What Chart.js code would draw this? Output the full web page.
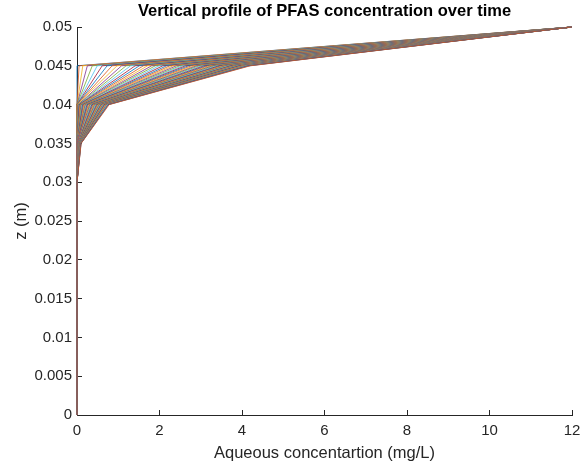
<!DOCTYPE html>
<html><head><meta charset="utf-8">
<script src="https://cdn.jsdelivr.net/npm/chart.js@4.4.0/dist/chart.umd.min.js"></script>
<style>html,body{margin:0;padding:0;background:#fff;} canvas{display:block;}</style>
</head><body>
<canvas id="c" width="582" height="465"></canvas>
<script>
// depth nodes (m)
const depthNodes = [0, 0.005, 0.01, 0.015, 0.02, 0.025, 0.03, 0.035, 0.04, 0.045, 0.05];
// concentration at the top boundary (z = 0.05) for every profile
const surfaceConc = 12;
// concentration at the deep nodes (z <= 0.03)
const deepConc = 0;
// concentration at z = 0.045 for each time profile
const conc045 = [0, 0.05, 0.14, 0.25, 0.37, 0.49, 0.61, 0.73, 0.85, 0.97, 1.08, 1.19, 1.30, 1.41, 1.51, 1.61, 1.71, 1.81, 1.90, 1.99, 2.08, 2.17, 2.25, 2.33, 2.41, 2.49, 2.56, 2.63, 2.70, 2.77, 2.84, 2.90, 2.96, 3.02, 3.08, 3.14, 3.19, 3.24, 3.29, 3.34, 3.39, 3.44, 3.48, 3.52, 3.56, 3.60, 3.64, 3.68, 3.72, 3.75, 3.78, 3.81, 3.84, 3.87, 3.90, 3.93, 3.96, 3.99, 4.02, 4.05, 4.08, 4.11, 4.14, 4.17, 4.20];
// concentration at z = 0.04
const conc040 = [0, 0, 0, 0.001, 0.002, 0.004, 0.006, 0.010, 0.014, 0.020, 0.026, 0.033, 0.042, 0.051, 0.061, 0.071, 0.083, 0.095, 0.107, 0.121, 0.135, 0.150, 0.164, 0.179, 0.195, 0.211, 0.226, 0.242, 0.259, 0.276, 0.293, 0.309, 0.325, 0.342, 0.359, 0.377, 0.392, 0.408, 0.424, 0.440, 0.457, 0.474, 0.488, 0.502, 0.516, 0.531, 0.545, 0.561, 0.576, 0.588, 0.599, 0.611, 0.624, 0.636, 0.648, 0.661, 0.673, 0.686, 0.699, 0.712, 0.726, 0.739, 0.753, 0.766, 0.780];
// concentration at z = 0.035
const conc035 = [0, 0, 0, 0, 0, 0, 0, 0.0001, 0.0002, 0.0003, 0.0004, 0.0006, 0.0009, 0.0013, 0.0017, 0.0022, 0.0027, 0.0034, 0.0042, 0.0050, 0.0060, 0.0071, 0.0082, 0.0095, 0.0108, 0.0124, 0.0138, 0.0154, 0.0171, 0.0189, 0.0209, 0.0227, 0.0247, 0.0267, 0.0289, 0.0312, 0.0333, 0.0354, 0.0377, 0.0400, 0.0424, 0.0450, 0.0471, 0.0493, 0.0516, 0.0540, 0.0564, 0.0589, 0.0615, 0.0636, 0.0656, 0.0677, 0.0699, 0.0721, 0.0743, 0.0767, 0.0790, 0.0815, 0.0839, 0.0865, 0.0891, 0.0917, 0.0944, 0.0972, 0.1000];

const xTickValues = [0, 2, 4, 6, 8, 10, 12];
const xTickLabels = ['0', '2', '4', '6', '8', '10', '12'];
const yTickValues = [0, 0.005, 0.01, 0.015, 0.02, 0.025, 0.03, 0.035, 0.04, 0.045, 0.05];
const yTickLabels = ['0', '0.005', '0.01', '0.015', '0.02', '0.025', '0.03', '0.035', '0.04', '0.045', '0.05'];

const lineColors = ['#0072BD', '#D95319', '#EDB120', '#7E2F8E', '#77AC30', '#4DBEEE', '#A2142F'];

const datasets = conc045.map((a, i) => {
  const profile = depthNodes.map((z, k) => {
    let x = deepConc;
    if (k === 7) x = conc035[i];
    else if (k === 8) x = conc040[i];
    else if (k === 9) x = conc045[i];
    else if (k === 10) x = surfaceConc;
    return {x: x, y: z};
  });
  return {
    data: profile,
    showLine: true,
    borderColor: lineColors[i % lineColors.length],
    borderWidth: 0.8,
    pointRadius: 0,
    pointHoverRadius: 0,
    fill: false,
    clip: false,
    order: -i
  };
});

Chart.defaults.font.family = '"Liberation Sans", Arial, Helvetica, sans-serif';

new Chart(document.getElementById('c').getContext('2d'), {
  type: 'scatter',
  data: {datasets: datasets},
  options: {
    responsive: false,
    animation: false,
    devicePixelRatio: 1,
    layout: {padding: {left: 0, right: 0, top: 0, bottom: 0}},
    plugins: {
      legend: {display: false},
      tooltip: {enabled: false},
      title: {display: false}
    },
    scales: {
      x: {
        type: 'linear', min: 0, max: 12,
        afterBuildTicks: s => { s.ticks = xTickValues.map(v => ({value: v})); },
        afterFit: s => { s.height = 50; s.paddingRight = 10; s.paddingLeft = 0; },
        grid: {display: true, drawOnChartArea: false, drawTicks: true, tickLength: -5, color: '#262626', lineWidth: 1},
        border: {display: true, color: '#262626', width: 1},
        ticks: {color: '#262626', font: {size: 15}, padding: 12, maxRotation: 0, autoSkip: false,
          callback: (v, i) => xTickLabels[i]},
        title: {display: true, text: 'Aqueous concentartion (mg/L)', color: '#262626', font: {size: 16.5}, padding: {top: 0, bottom: 2}}
      },
      xTitle: {
        type: 'linear', position: 'top', min: 0, max: 12,
        afterFit: s => { s.height = 27; s.paddingRight = 0; s.paddingLeft = 0; },
        grid: {display: false, drawTicks: false},
        border: {display: false},
        ticks: {display: false},
        title: {display: true, text: 'Vertical profile of PFAS concentration over time', color: '#000000',
          font: {size: 16.5, weight: 'bold'}, padding: {top: 2, bottom: 0}}
      },
      y: {
        type: 'linear', min: 0, max: 0.05,
        afterBuildTicks: s => { s.ticks = yTickValues.map(v => ({value: v})); },
        afterFit: s => { s.width = 77; },
        grid: {display: true, drawOnChartArea: false, drawTicks: true, tickLength: -5, color: '#262626', lineWidth: 1},
        border: {display: true, color: '#262626', width: 1},
        ticks: {color: '#262626', font: {size: 15}, padding: 10, autoSkip: false,
          callback: (v, i) => yTickLabels[i]},
        title: {display: true, text: 'z (m)', color: '#262626', font: {size: 16.5}, padding: {top: 12, bottom: 0}}
      }
    }
  }
});
</script>
</body></html>
